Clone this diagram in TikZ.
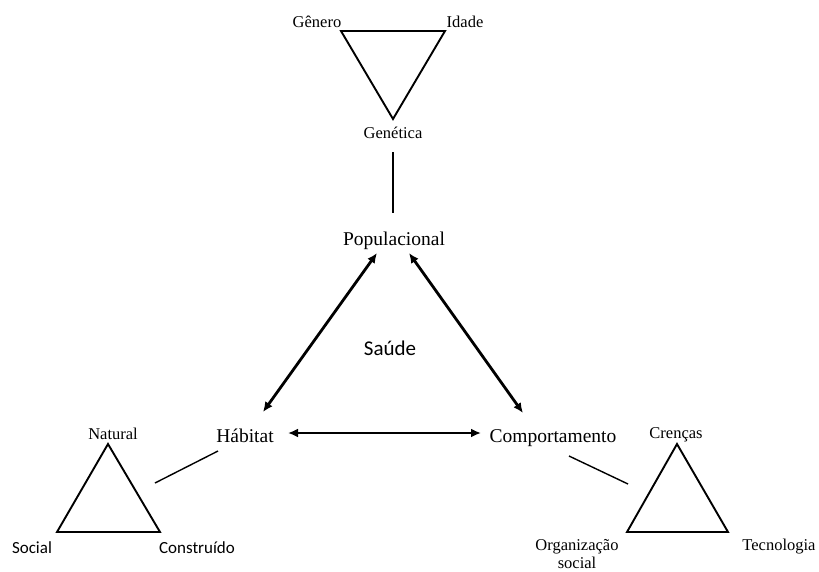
\documentclass[tikz,border=0pt]{standalone}
\usepackage{fontspec}
\setmainfont{Liberation Serif}
\newfontfamily\calib{Carlito}
\usetikzlibrary{arrows.meta}
\tikzset{
  big/.style={inner sep=0pt, anchor=base, font=\fontsize{19.5}{21}\selectfont},
  small/.style={inner sep=0pt, anchor=base, font=\fontsize{16.5}{18}\selectfont},
  smallsans/.style={inner sep=0pt, anchor=base, font=\calib\fontsize{17}{18}\selectfont},
  tri/.style={line width=1.9pt, line join=miter},
  link/.style={line width=1.4pt},
  dbl/.style={line width=2.8pt, {Latex[length=10pt,width=9pt]}-{Latex[length=10pt,width=9pt]}}
}
\begin{document}
\begin{tikzpicture}[x=1pt,y=-1pt]
\useasboundingbox (0,0) rectangle (819,571);
% top triangle
\node[small] (gen) at (317,27) {Gênero};
\node[small] (ida) at (465,27) {Idade};
\node[small] (gent) at (393,138) {Genética};
\draw[tri] (341,31) -- (445,31) -- (393,119) -- cycle;
% main labels
\node[big] (pop) at (394,245) {Populacional};
\node[inner sep=0pt, anchor=base, font=\calib\fontsize{21}{22}\selectfont] (sau) at (390,355) {Saúde};
\node[big] (hab) at (245,442) {Hábitat};
\node[big] (com) at (553,442) {Comportamento};
% connector from Genética to Populacional
\coordinate (g1) at (393,152);
\coordinate (g2) at (393,213);
\draw[link] (g1) -- (g2);
% arrows
\coordinate (p1) at (377,253);
\coordinate (h1) at (263,412);
\coordinate (p2) at (409,253);
\coordinate (c1) at (523,413);
\coordinate (h2) at (288,433);
\coordinate (c2) at (481,433);
\draw[dbl] (p1) -- (h1);
\draw[dbl] (p2) -- (c1);
\draw[dbl] (h2) -- (c2);
% left triangle
\node[small] (nat) at (113,439) {Natural};
\node[smallsans] (soc) at (32,553) {Social};
\node[smallsans] (con) at (197,553) {Construído};
\draw[tri] (108,444) -- (160,532) -- (57,532) -- cycle;
\coordinate (l1) at (218,451);
\coordinate (l2) at (155,483);
\draw[link] (l1) -- (l2);
% right triangle
\node[small] (cre) at (676,438) {Crenças};
\node[small] (org) at (577,550) {Organização};
\node[small] (soc2) at (577,568) {social};
\node[small] (tec) at (779,550) {Tecnologia};
\draw[tri] (677,444) -- (728,532) -- (627,532) -- cycle;
\coordinate (r1) at (569,456);
\coordinate (r2) at (628,484);
\draw[link] (r1) -- (r2);
\end{tikzpicture}
\end{document}
